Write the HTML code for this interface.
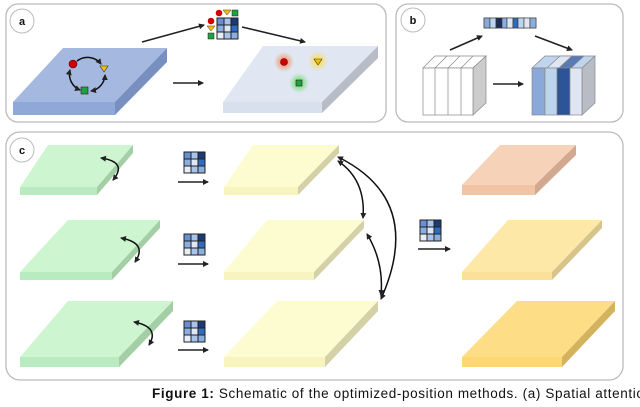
<!DOCTYPE html>
<html><head><meta charset="utf-8"><style>
body{margin:0;background:#fff;width:640px;height:402px;overflow:hidden;font-family:"Liberation Sans",sans-serif}
</style></head><body>
<svg width="640" height="402" viewBox="0 0 640 402" xmlns="http://www.w3.org/2000/svg">
<defs>
<marker id="ah" markerWidth="6" markerHeight="6" refX="5" refY="3" orient="auto" markerUnits="userSpaceOnUse"><path d="M0,0 L6,3 L0,6 z" fill="#222"/></marker>
<marker id="as" markerWidth="6" markerHeight="6" refX="1" refY="3" orient="auto" markerUnits="userSpaceOnUse"><path d="M6,0 L0,3 L6,6 z" fill="#222"/></marker>
<radialGradient id="gr"><stop offset="0.3" stop-color="#f0a080"/><stop offset="1" stop-color="#f0a080" stop-opacity="0"/></radialGradient>
<radialGradient id="gy"><stop offset="0.3" stop-color="#f6e070"/><stop offset="1" stop-color="#f6e070" stop-opacity="0"/></radialGradient>
<radialGradient id="gg"><stop offset="0.3" stop-color="#80e080"/><stop offset="1" stop-color="#80e080" stop-opacity="0"/></radialGradient>
<g id="mx">
<rect x="0" y="0" width="7" height="7" fill="#6a8fd0"/><rect x="7" y="0" width="7" height="7" fill="#a8c4ea"/><rect x="14" y="0" width="7" height="7" fill="#1c3a78"/>
<rect x="0" y="7" width="7" height="7" fill="#8aaee0"/><rect x="7" y="7" width="7" height="7" fill="#dfe8f6"/><rect x="14" y="7" width="7" height="7" fill="#2e6cc0"/>
<rect x="0" y="14" width="7" height="7" fill="#e8eef8"/><rect x="7" y="14" width="7" height="7" fill="#a8c4ea"/><rect x="14" y="14" width="7" height="7" fill="#8aaee0"/>
<path d="M0,0h21v21h-21z M7,0v21 M14,0v21 M0,7h21 M0,14h21" fill="none" stroke="#222" stroke-width="1"/>
</g>
</defs>
<g stroke="#bbb" stroke-width="1.3" fill="#fff">
<rect x="6" y="4" width="380" height="118" rx="12"/>
<rect x="396" y="4" width="227" height="118" rx="12"/>
<rect x="6" y="132" width="617" height="248" rx="14"/>
</g>
<g fill="#fff" stroke="#bbb"><circle cx="22" cy="21" r="12"/><circle cx="413" cy="20" r="12"/><circle cx="22" cy="150" r="12"/></g>
<g font-size="11" font-weight="bold" text-anchor="middle" fill="#111"><text x="22" y="25">a</text><text x="413" y="24">b</text><text x="22" y="154">c</text></g>

<polygon points="63,48 167,48 115,102 13,102" fill="#a4b8e0"/>
<rect x="13" y="102" width="102" height="13" fill="#8fa8d8"/>
<polygon points="115,102 167,48 167,62 115,115" fill="#7890bf"/>
<polygon points="263,46 378,46 322,102 223,102" fill="#e0e6f2"/>
<rect x="223" y="102" width="99" height="11" fill="#d8e0ee"/>
<polygon points="322,102 378,46 378,58 322,113" fill="#b8bcc6"/>
<g fill="none" stroke="#111" stroke-width="1.5">
<path d="M77,61 A17,17 0 0 1 101,64" marker-end="url(#ah)"/>
<path d="M105,75 A17,17 0 0 1 91,91" marker-end="url(#ah)" marker-start="url(#as)"/>
<path d="M80,90 A17,17 0 0 1 70,70" marker-end="url(#ah)" marker-start="url(#as)"/>
</g>
<circle cx="73" cy="64" r="4" fill="#c00" stroke="#600" stroke-width=".6"/>
<polygon points="100,66 108,66 104,72" fill="#f4c000" stroke="#333" stroke-width=".6"/>
<rect x="81" y="87" width="7" height="7" fill="#20a040" stroke="#222" stroke-width=".6"/>
<circle cx="284" cy="62" r="10" fill="url(#gr)"/><circle cx="284" cy="62" r="3.5" fill="#c00" stroke="#600" stroke-width=".6"/>
<circle cx="318" cy="61" r="10" fill="url(#gy)"/><polygon points="314,59 322,59 318,65" fill="#f4c000" stroke="#333" stroke-width=".6"/>
<circle cx="299" cy="83" r="10" fill="url(#gg)"/><rect x="296" y="80" width="6" height="6" fill="#20a040" stroke="#222" stroke-width=".6"/>
<use href="#mx" x="217" y="18"/>
<circle cx="219" cy="13" r="3.3" fill="#c00"/><polygon points="223,10 231,10 227,15" fill="#f4c000" stroke="#333" stroke-width=".5"/><rect x="232" y="10" width="6" height="6" fill="#20a040" stroke="#222" stroke-width=".5"/>
<circle cx="211" cy="21" r="3.3" fill="#c00"/><polygon points="207,26 215,26 211,31" fill="#f4c000" stroke="#333" stroke-width=".5"/><rect x="208" y="33" width="6" height="6" fill="#20a040" stroke="#222" stroke-width=".5"/>
<g stroke="#222" stroke-width="1.6" fill="none" marker-end="url(#ah)">
<line x1="142" y1="42" x2="204" y2="25"/><line x1="242" y1="27" x2="305" y2="42"/><line x1="173" y1="83" x2="203" y2="83"/>
<line x1="450" y1="50" x2="482" y2="36"/><line x1="535" y1="36" x2="572" y2="50"/><line x1="493" y1="84" x2="523" y2="84"/>
<line x1="178" y1="182" x2="208" y2="182"/><line x1="178" y1="264" x2="208" y2="264"/><line x1="178" y1="350" x2="208" y2="350"/><line x1="418" y1="249" x2="450" y2="249"/>
</g>

<g stroke="#333" stroke-width=".6">
<rect x="484" y="18" width="52" height="10" fill="#fff"/>
<rect x="484" y="18" width="6" height="10" fill="#8aa8d8"/><rect x="490" y="18" width="6" height="10" fill="#bcd4ee"/><rect x="496" y="18" width="6" height="10" fill="#1c2e58"/><rect x="502" y="18" width="5" height="10" fill="#8aaee0"/><rect x="507" y="18" width="6" height="10" fill="#dfe6f2"/><rect x="513" y="18" width="5" height="10" fill="#2e6cc0"/><rect x="518" y="18" width="6" height="10" fill="#bcd4ee"/><rect x="524" y="18" width="6" height="10" fill="#dfe6f2"/><rect x="530" y="18" width="6" height="10" fill="#8aaee0"/>
</g>
<g stroke="#888" stroke-width=".7">
<polygon points="423,68 435,56 486,56 473,68" fill="#fff"/>
<polygon points="473,68 486,56 486,103 473,115" fill="#ccc"/>
<rect x="423" y="68" width="50" height="47" fill="#fff"/>
<path d="M435,68v47 M448,68v47 M461,68v47 M435,68l12,-12 M448,68l12,-12 M461,68l12,-12" fill="none"/>
<polygon points="532,68 545,56 595,56 582,68" fill="#c0d4ee"/>
<polygon points="547,68 560,56 572,56 559,68" fill="#dfe6f2"/><polygon points="559,68 572,56 584,56 571,68" fill="#5a7ab4"/>
<polygon points="582,68 595,56 595,103 582,115" fill="#b8bcc4"/>
<rect x="532" y="68" width="13" height="47" fill="#8aa8d8"/><rect x="545" y="68" width="12" height="47" fill="#bcd4ee"/><rect x="557" y="68" width="13" height="47" fill="#2c5496"/><rect x="570" y="68" width="12" height="47" fill="#dfe6f2"/>
</g>

<g>
<polygon points="48,145 133,145 97,187 20,187" fill="#ccf5d0"/><rect x="20" y="187" width="77" height="8" fill="#b8ecc0"/><polygon points="97,187 133,145 133,153 97,195" fill="#a4cfa6"/>
<polygon points="68,220 160,220 112,272 20,272" fill="#ccf5d0"/><rect x="20" y="272" width="92" height="8" fill="#b8ecc0"/><polygon points="112,272 160,220 160,228 112,280" fill="#a4cfa6"/>
<polygon points="68,301 173,301 119,357 20,357" fill="#ccf5d0"/><rect x="20" y="357" width="99" height="10" fill="#b8ecc0"/><polygon points="119,357 173,301 173,311 119,367" fill="#a4cfa6"/>
<polygon points="253,145 339,145 298,187 224,187" fill="#fdfbd0"/><rect x="224" y="187" width="74" height="8" fill="#f8f4c0"/><polygon points="298,187 339,145 339,153 298,195" fill="#d4d0a8"/>
<polygon points="267,220 364,220 314,272 224,272" fill="#fdfbd0"/><rect x="224" y="272" width="90" height="8" fill="#f8f4c0"/><polygon points="314,272 364,220 364,228 314,280" fill="#d4d0a8"/>
<polygon points="277,301 378,301 325,357 224,357" fill="#fdfbd0"/><rect x="224" y="357" width="101" height="10" fill="#f8f4c0"/><polygon points="325,357 378,301 378,311 325,367" fill="#d4d0a8"/>
<polygon points="500,145 576,145 535,185 462,185" fill="#f6d2b8"/><rect x="462" y="185" width="73" height="10" fill="#f2c4a6"/><polygon points="535,185 576,145 576,155 535,195" fill="#d2a890"/>
<polygon points="508,220 602,220 552,272 462,272" fill="#fde8a8"/><rect x="462" y="272" width="90" height="8" fill="#fbe09a"/><polygon points="552,272 602,220 602,228 552,280" fill="#d6c48a"/>
<polygon points="517,301 615,301 562,357 462,357" fill="#fddd86"/><rect x="462" y="357" width="100" height="10" fill="#fdd870"/><polygon points="562,357 615,301 615,311 562,367" fill="#d4b35e"/>
</g>
<use href="#mx" x="184" y="152"/><use href="#mx" x="184" y="234"/><use href="#mx" x="184" y="321"/><use href="#mx" x="420" y="220"/>
<g fill="none" stroke="#111" stroke-width="1.5" marker-end="url(#ah)" marker-start="url(#as)">
<path d="M101,158 Q128,162 113,180"/>
<path d="M121,238 Q148,243 135,262"/>
<path d="M134,322 Q160,327 149,345"/>
<path d="M338,161 Q366,180 363,218"/>
<path d="M338,157 Q425,200 381,299"/>
<path d="M367,234 Q384,262 381,295"/>
</g>
<text x="152" y="398" font-size="13.5" fill="#111" textLength="500" lengthAdjust="spacing"><tspan font-weight="bold">Figure 1:</tspan>   Schematic of the optimized-position methods. (a) Spatial attention</text>
</svg>
</body></html>
